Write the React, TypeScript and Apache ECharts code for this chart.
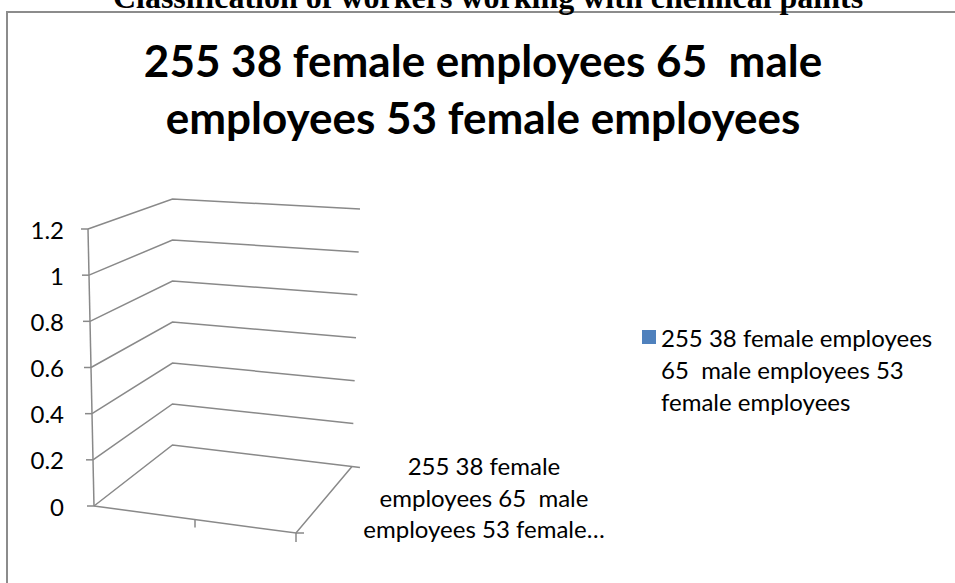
import React, { useEffect, useRef } from "react";
import * as echarts from "echarts";

const pageTitle = "Classification of workers working with chemical paints";
const chartTitle = "255 38 female employees 65  male\nemployees 53 female employees";
const seriesName = "255 38 female employees 65  male employees 53 female employees";
const legendLabel = "255 38 female employees\n65  male employees 53\nfemale employees";
const categories = ["255 38 female employees 65  male employees 53 female employees"];
const categoryLabel = "255 38 female\nemployees 65  male\nemployees 53 female…";
const seriesValues: (number | null)[] = [null];
const yTicks = [0, 0.2, 0.4, 0.6, 0.8, 1, 1.2];

const GRAY = "#898989";
const FONT = "Lato";

export default function App() {
  const ref = useRef<HTMLDivElement>(null);
  useEffect(() => {
    if (!ref.current) return;
    const chart = echarts.init(ref.current, undefined, { renderer: "svg" });

    const renderFrame = (params: any, api: any) => {
      const cs = params.coordSys;
      const v = api.value(1);
      const p = api.coord([0, v]);
      const x0 = cs.x;
      const yb = cs.y + cs.height;
      const t = (yb - p[1]) / cs.height;
      const style = { stroke: GRAY, lineWidth: 1.5, fill: "none" };
      const fl = [x0 + 6 * (1 - t), p[1]];
      const bl = [x0 + 84.5, yb - 61 - t * 246];
      const br = [x0 + 264 + 8 * t, yb - 39.5 - t * 257.5];
      const children: any[] = [
        { type: "polyline", shape: { points: [[fl[0] - 7, fl[1]], fl] }, style },
        { type: "polyline", shape: { points: [fl, bl, br] }, style },
      ];
      if (params.dataIndex === 0) {
        const fr = [x0 + cs.width, yb + 27];
        const dx = br[0] - bl[0];
        const dy = br[1] - bl[1];
        const len = Math.sqrt(dx * dx + dy * dy);
        const ext = [br[0] + (dx / len) * 8, br[1] + (dy / len) * 8];
        const mid = [(fl[0] + fr[0]) / 2, (fl[1] + fr[1]) / 2];
        children.push(
          { type: "polyline", shape: { points: [[x0 + 6, yb], [x0, cs.y]] }, style },
          { type: "polyline", shape: { points: [fl, fr, br] }, style },
          { type: "polyline", shape: { points: [br, ext] }, style },
          { type: "polyline", shape: { points: [fr, [fr[0] + 8, fr[1]]] }, style },
          { type: "polyline", shape: { points: [fr, [fr[0], fr[1] + 9]] }, style },
          { type: "polyline", shape: { points: [mid, [mid[0], mid[1] + 8]] }, style }
        );
      }
      return { type: "group", children };
    };

    chart.setOption({
      animation: false,
      backgroundColor: "#ffffff",
      grid: { left: 88, top: 229, width: 208, height: 277 },
      xAxis: { type: "category", data: categories, show: false },
      yAxis: {
        type: "value",
        min: 0,
        max: 1.2,
        interval: 0.2,
        axisLine: { show: false },
        axisTick: { show: false },
        splitLine: { show: false },
        axisLabel: {
          margin: 24,
          fontFamily: FONT,
          fontSize: 24,
          color: "#000",
          formatter: (val: number) => String(Number(val.toFixed(1))),
        },
      },
      legend: {
        data: [seriesName],
        left: 642,
        top: 321,
        padding: 0,
        icon: "path://M0,0H14V14H0Z M0,78L0.01,78",
        itemWidth: 14,
        itemHeight: 78,
        selectedMode: false,
        formatter: () => legendLabel,
        textStyle: { fontFamily: FONT, fontSize: 24, lineHeight: 32, color: "#000" },
      },
      graphic: [
        {
          type: "rect",
          shape: { x: 7, y: 12, width: 1000, height: 700 },
          style: { fill: "none", stroke: "#8c8c8c", lineWidth: 2 },
          z: 0,
        },
        {
          type: "text",
          x: 488,
          y: -3,
          z: 10,
          style: {
            text: pageTitle,
            fontFamily: "Liberation Serif",
            fontWeight: "bold",
            fontSize: 32,
            fill: "#000",
            align: "center",
            verticalAlign: "middle",
          },
        },
        {
          type: "text",
          x: 483,
          y: 31,
          z: 10,
          style: {
            text: chartTitle,
            fontFamily: FONT,
            fontWeight: "bold",
            fontSize: 44,
            lineHeight: 57,
            fill: "#000",
            align: "center",
            verticalAlign: "top",
          },
        },
        {
          type: "text",
          x: 484,
          y: 497,
          z: 10,
          style: {
            text: categoryLabel,
            fontFamily: FONT,
            fontSize: 24,
            lineHeight: 31.5,
            fill: "#000",
            align: "center",
            verticalAlign: "middle",
          },
        },
      ],
      series: [
        { type: "bar", name: seriesName, data: seriesValues, itemStyle: { color: "#4F81BD" } },
        {
          type: "custom",
          renderItem: renderFrame,
          data: yTicks.map((v) => [0, v]),
          silent: true,
          z: 1,
        },
      ],
    });
    return () => chart.dispose();
  }, []);
  return (
    <div
      ref={ref}
      style={{ position: "absolute", left: 0, top: 0, width: 955, height: 583 }}
    />
  );
}
